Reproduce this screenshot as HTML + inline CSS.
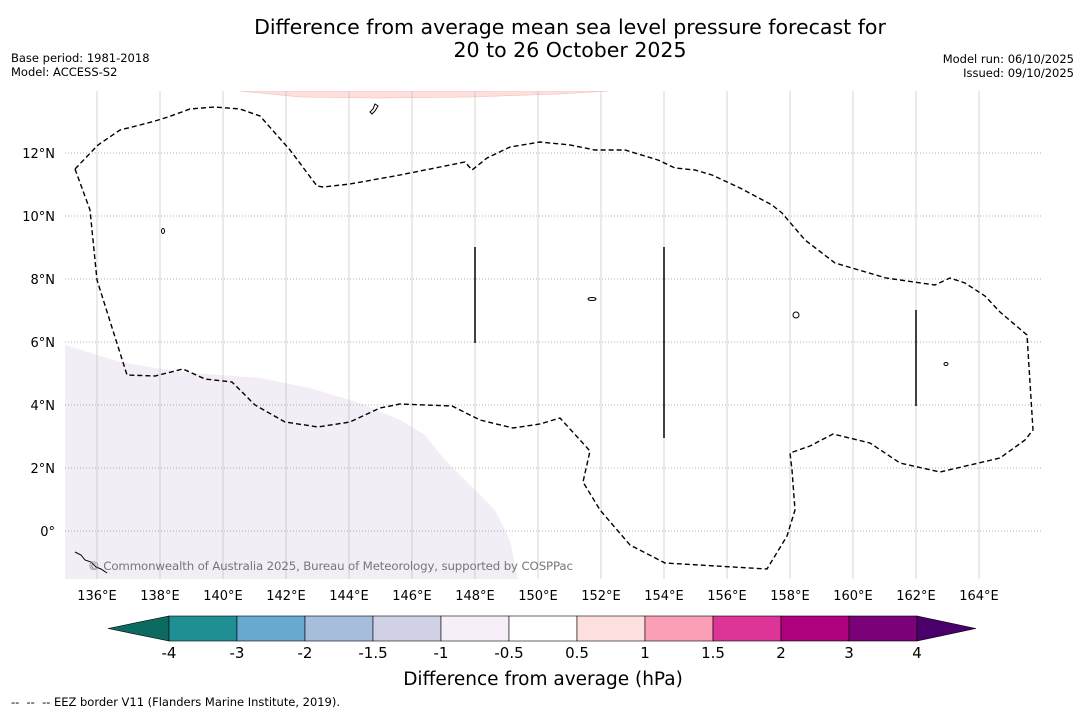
<!DOCTYPE html>
<html><head><meta charset="utf-8"><style>
body{margin:0;background:#fff;width:1085px;height:713px;overflow:hidden;font-family:"Liberation Sans","DejaVu Sans",sans-serif;}
svg text{font-family:"DejaVu Sans","Liberation Sans",sans-serif;}
</style></head><body>
<svg id="c" width="1085" height="713">
<text x="570" y="34" font-size="20.5" text-anchor="middle">Difference from average mean sea level pressure forecast for</text>
<text x="570" y="57" font-size="20.5" text-anchor="middle">20 to 26 October 2025</text>
<text x="11" y="62" font-size="11.5">Base period: 1981-2018</text>
<text x="11" y="76" font-size="11.5">Model: ACCESS-S2</text>
<text x="1074" y="63" font-size="11.5" text-anchor="end">Model run: 06/10/2025</text>
<text x="1074" y="77" font-size="11.5" text-anchor="end">Issued: 09/10/2025</text>
<defs><clipPath id="mapclip"><rect x="65" y="91" width="978" height="488"/></clipPath></defs>
<g clip-path="url(#mapclip)">
<path d="M65,345 L120,362 L180,372 L260,378 L310,388 L360,403 L400,420 L425,435 L445,460 L470,485 L495,510 L510,540 L518,579 L65,579 Z" fill="#f3eef5"/>
<path d="M240,91 L608,91 L560,94 L470,97 L380,98 L300,97 Z" fill="#fde0dd" stroke="#f5b8b0" stroke-width="0.5"/>
<g id="grid"></g>
<path d="M75,169 L90,210 L97,280 L127,375 L155,376 L183,369 L205,379 L232,382 L255,405 L285,422 L318,427 L350,422 L380,408 L400,404 L452,406 L480,420 L513,428 L540,424 L560,418 L590,451 L583,482 L600,510 L630,545 L665,563 L767,569 L787,536 L795,510 L792,470 L790,453 L810,446 L833,434 L870,443 L900,463 L940,472 L1000,458 L1025,440 L1033,430 L1027,335 L1000,312 L985,296 L965,283 L950,278 L935,285 L886,278 L835,263 L805,240 L782,213 L772,205 L740,188 L712,175 L695,170 L675,168 L658,160 L625,150 L595,150 L570,145 L540,142 L510,147 L487,158 L472,170 L465,162 L440,167 L400,175 L350,184 L323,187 L317,186 L290,150 L260,116 L240,109 L215,107 L190,109 L168,117 L155,121 L140,125 L120,130 L98,145 Z" fill="none" stroke="#000" stroke-width="1.4" stroke-dasharray="5,3"/>
<line x1="475" y1="247" x2="475" y2="343" stroke="#000" stroke-width="1.5"/>
<line x1="664" y1="247" x2="664" y2="438" stroke="#000" stroke-width="1.5"/>
<line x1="916" y1="310" x2="916" y2="406" stroke="#000" stroke-width="1.5"/>
<g fill="none" stroke="#000" stroke-width="1">
<path d="M370,112 l3,-3 2,-5 3,2 -3,5 -3,3z"/><ellipse cx="796" cy="315" rx="3" ry="3"/><ellipse cx="592" cy="299" rx="4" ry="1.5"/><ellipse cx="163" cy="231" rx="1.5" ry="2.5"/>
<path d="M75,552 l6,3 4,5 6,2 5,5 5,2 6,4"/><ellipse cx="946" cy="364" rx="2" ry="1.5"/>
</g>
<text x="88" y="570" font-size="11.8" fill="#777" textLength="485">© Commonwealth of Australia 2025, Bureau of Meteorology, supported by COSPPac</text>
</g>
<g id="axes"></g>
<g id="cbar"></g>
<text x="543" y="685" font-size="18.5" text-anchor="middle">Difference from average (hPa)</text>
<text x="11" y="706" font-size="11.5" xml:space="preserve" textLength="329">--  --  -- EEZ border V11 (Flanders Marine Institute, 2019).</text>
</svg>
<script>
const lonTicks=[136,138,140,142,144,146,148,150,152,154,156,158,160,162,164];
const latTicks=[0,2,4,6,8,10,12];
const cbLevels=["-4","-3","-2","-1.5","-1","-0.5","0.5","1","1.5","2","3","4"];
const cbColors=["#1f8f94","#67a9cf","#a6bddb","#d0d1e6","#f6eff7","#ffffff","#fde0dd","#fa9fb5","#dd3497","#ae017e","#7a0177"];
const NS="http://www.w3.org/2000/svg";
const xOf=lon=>97+(lon-136)*31.5, yOf=lat=>531-lat*31.5;
function mk(t,a,p){const e=document.createElementNS(NS,t);for(const k in a)e.setAttribute(k,a[k]);p.appendChild(e);return e;}
const grid=document.getElementById('grid'),axes=document.getElementById('axes'),cb=document.getElementById('cbar');
lonTicks.forEach(l=>{
 const g=mk('line',{x1:xOf(l),x2:xOf(l),y1:91,y2:579,stroke:'#b8b8b8','stroke-width':0.6},grid);
 
 
 const t=mk('text',{x:xOf(l),y:600,'font-size':13,'text-anchor':'middle'},axes);t.textContent=l+'°E';
 
 
});
latTicks.forEach(l=>{
 const g=mk('line',{x1:65,x2:1043,y1:yOf(l),y2:yOf(l),stroke:'#999','stroke-width':0.8,'stroke-dasharray':'1,2'},grid);
 
 
 const t=mk('text',{x:55,y:yOf(l)+5,'font-size':13,'text-anchor':'end'},axes);t.textContent=l===0?'0°':l+'°N';
 
 
});
const x0=169,w=68,y0=616,h=25;
const le=mk('polygon',{points:`${x0},${y0} ${x0},${y0+h} 108,${y0+h/2}`,fill:'#0c6b60',stroke:'#000','stroke-width':0.6},cb);


cbColors.forEach((c,i)=>{
 const r=mk('rect',{x:x0+i*w,y:y0,width:w,height:h,fill:c,stroke:'#000','stroke-width':0.6},cb);
 
 
});
const xe=x0+cbColors.length*w;
const re=mk('polygon',{points:`${xe},${y0} ${xe},${y0+h} 976,${y0+h/2}`,fill:'#49006a',stroke:'#000','stroke-width':0.6},cb);


cbLevels.forEach((v,i)=>{
 const t=mk('text',{x:x0+i*w,y:658,'font-size':15,'text-anchor':'middle'},cb);t.textContent=v;
 
 
});
</script>
</body></html>
